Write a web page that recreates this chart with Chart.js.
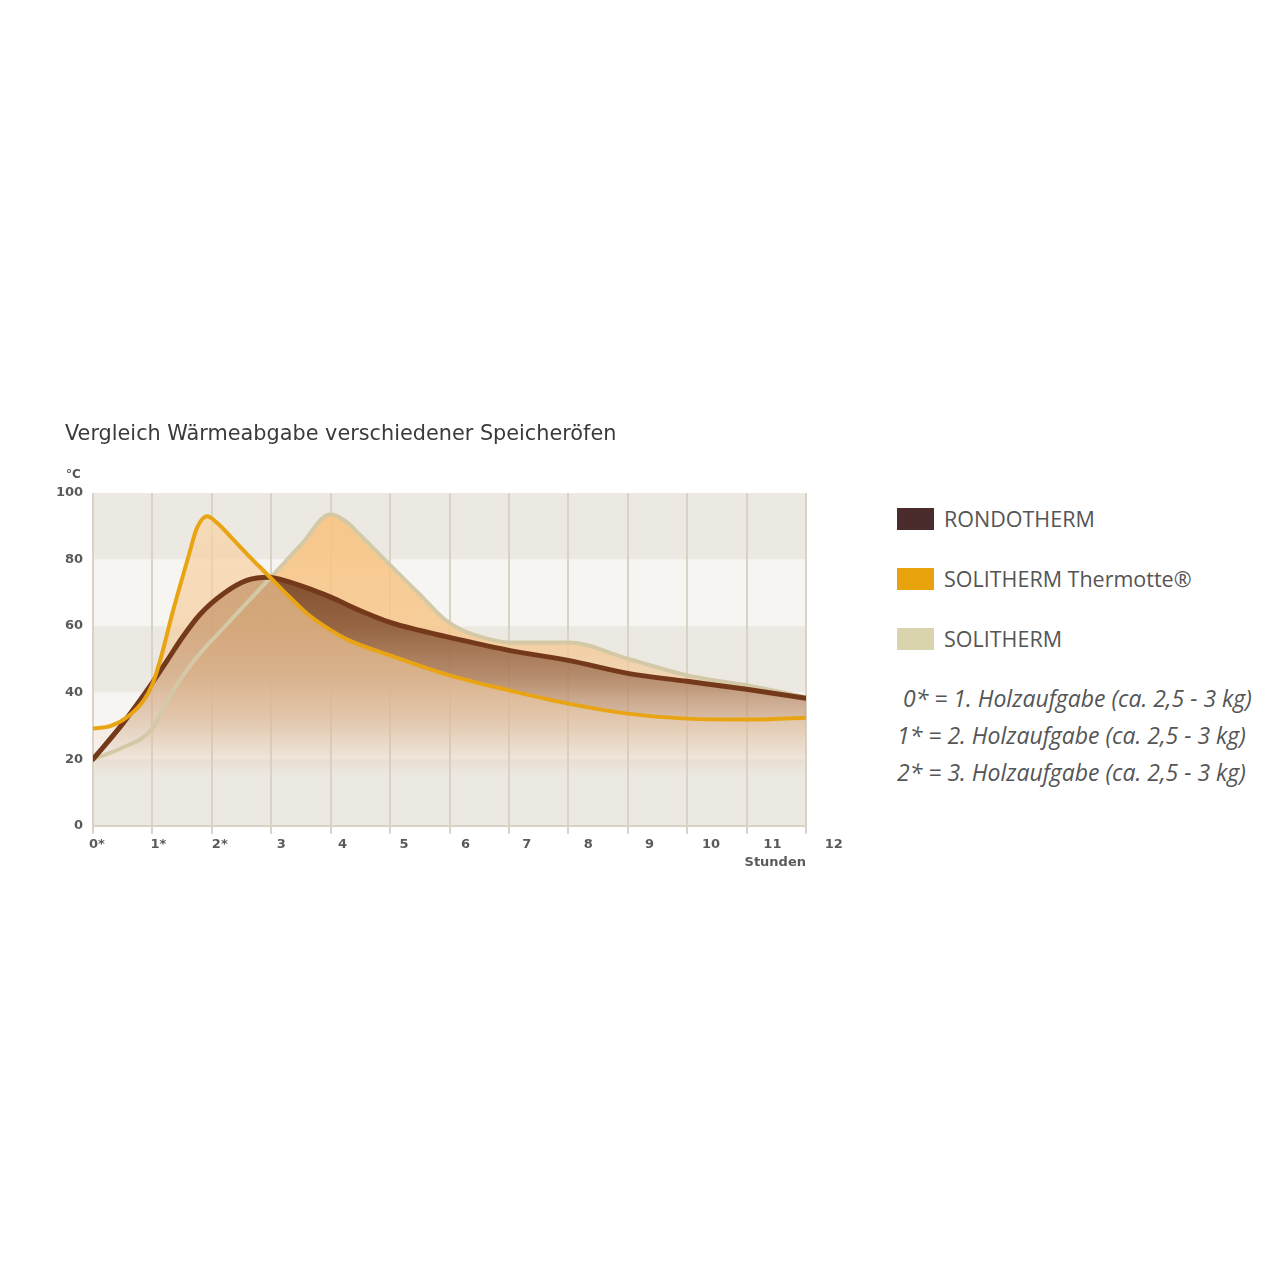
<!DOCTYPE html>
<html>
<head>
<meta charset="utf-8">
<script src="https://cdn.jsdelivr.net/npm/chart.js@4.4.1/dist/chart.umd.min.js"></script>
<style>
  body { margin: 0; background: #fff; width: 1280px; height: 1280px; position: relative; overflow: hidden; }
  #wrap { position: absolute; left: 0; top: 400px; width: 860px; height: 480px; }
  #unit { position: absolute; left: 66px; top: 467px; font: bold 12px "DejaVu Sans", sans-serif; color: #555; }
  #legend { position: absolute; left: 897px; top: 505px; font-family: "Open Sans", sans-serif; color: #555; }
  .item { height: 60px; display: flex; align-items: flex-start; }
  .box { width: 37px; height: 22px; margin-top: 3px; margin-right: 10px; }
  .label { font-size: 21.5px; line-height: 28px; }
  #notes { position: absolute; left: 897px; top: 680px; font: italic 23px "Open Sans", sans-serif; color: #555; line-height: 37px; }
</style>
</head>
<body>
<div id="wrap"><canvas id="chart" width="860" height="480"></canvas></div>
<div id="unit">°C</div>
<div id="legend"></div>
<div id="notes"></div>
<script>
// Daten
const seriesNames = ["RONDOTHERM", "SOLITHERM Thermotte®", "SOLITHERM"];
const legendColors = ["#4b2c2c", "#e8a20c", "#d9d4ae"];

const rondoHours = [0, 0.5, 1, 1.25, 1.5, 1.8, 2.2, 2.6, 2.95, 3.3, 3.7, 4, 4.5, 5, 5.5, 6, 7, 8, 9, 10, 11, 12];
const rondoValues = [20, 30.7, 43, 49.7, 56.5, 63.5, 69.8, 73.8, 74.7, 73.3, 70.8, 68.7, 64.6, 61.1, 58.7, 56.6, 52.7, 49.7, 45.8, 43.4, 41, 38.3];

const thermotteHours = [0, 0.3, 0.6, 0.85, 1, 1.13, 1.35, 1.6, 1.75, 1.92, 2.1, 2.35, 2.6, 2.8, 3, 3.3, 3.6, 4, 4.3, 5, 6, 7, 8, 9, 10, 11, 12];
const thermotteValues = [29.2, 30, 33, 37.6, 42.5, 49.7, 64.8, 80.5, 89.5, 93, 90.8, 86.2, 81.5, 77.9, 74.3, 68.9, 63.8, 58.8, 55.8, 51.2, 45.2, 40.7, 36.7, 33.7, 32.2, 31.9, 32.5];

const solithermHours = [0, 0.5, 1, 1.13, 1.46, 1.8, 2.2, 2.6, 3, 3.5, 4, 4.25, 4.5, 5, 5.5, 5.9, 6.2, 6.6, 7, 7.6, 8, 9, 10, 11, 12];
const solithermValues = [20, 23.5, 29.2, 33.5, 43.7, 51.8, 59.5, 67.2, 74.8, 84.4, 93.6, 91.5, 87.3, 78.3, 69.5, 62.3, 58.9, 56.4, 55.1, 55.1, 55.1, 50.2, 45.2, 42.2, 38.6];

const xTickLabels = ["0*", "1*", "2*", "3", "4", "5", "6", "7", "8", "9", "10", "11", "12"];
const yMax = 100;
const yStep = 20;

const notes = [
  "\u00a00* = 1. Holzaufgabe (ca. 2,5 - 3 kg)",
  "1* = 2. Holzaufgabe (ca. 2,5 - 3 kg)",
  "2* = 3. Holzaufgabe (ca. 2,5 - 3 kg)",
];

const toPoints = (xs, ys) => xs.map((x, i) => ({ x, y: ys[i] }));

// vertikaler Verlauf in Datenwerten (0..100)
function vGradient(context, stops) {
  const chart = context.chart;
  if (!chart.chartArea) return null;
  const y = chart.scales.y;
  const g = chart.ctx.createLinearGradient(0, y.getPixelForValue(yMax), 0, y.getPixelForValue(0));
  stops.forEach(([v, c]) => g.addColorStop(1 - v / yMax, c));
  return g;
}

// Hintergrundstreifen
const bandsPlugin = {
  id: "bands",
  beforeDraw(chart) {
    const { ctx, chartArea } = chart;
    const y = chart.scales.y;
    ctx.save();
    let i = 0;
    for (let v = yMax; v > 0; v -= yStep, i++) {
      const top = y.getPixelForValue(v);
      const bottom = y.getPixelForValue(v - yStep);
      ctx.fillStyle = i % 2 === 0 ? "#ece9e3" : "#f6f5f2";
      ctx.fillRect(chartArea.left, top, chartArea.right - chartArea.left, bottom - top);
    }
    ctx.restore();
  },
};

const datasets = [
  {
    label: seriesNames[1],
    data: toPoints(thermotteHours, thermotteValues),
    borderColor: "#e9a414",
    borderWidth: 4,
    fill: "origin",
    backgroundColor: (c) => vGradient(c, [
      [100, "rgba(250,214,168,0.7)"],
      [60, "rgba(246,202,152,0.66)"],
      [40, "rgba(242,208,170,0.55)"],
      [15, "rgba(245,230,215,0)"],
    ]),
  },
  {
    label: seriesNames[0],
    data: toPoints(rondoHours, rondoValues),
    borderColor: "#74391a",
    borderWidth: 5,
    fill: "origin",
    backgroundColor: (c) => vGradient(c, [
      [80, "rgba(105,55,25,0.9)"],
      [60, "rgba(125,75,45,0.8)"],
      [45, "rgba(150,100,70,0.65)"],
      [30, "rgba(185,145,115,0.4)"],
      [14, "rgba(210,180,160,0)"],
    ]),
  },
  {
    label: seriesNames[2],
    data: toPoints(solithermHours, solithermValues),
    borderColor: "#d3c9a6",
    borderWidth: 4,
    fill: "origin",
    backgroundColor: (c) => vGradient(c, [
      [100, "rgba(249,196,128,0.92)"],
      [60, "rgba(247,198,138,0.85)"],
      [35, "rgba(240,205,165,0.5)"],
      [15, "rgba(240,220,200,0)"],
    ]),
  },
];

const tickFont = { family: "DejaVu Sans", size: 13, weight: "bold" };

const chart = new Chart(document.getElementById("chart"), {
  type: "line",
  data: { datasets },
  plugins: [bandsPlugin],
  options: {
    responsive: false,
    animation: false,
    layout: { padding: { left: 65, right: 54, top: 22, bottom: 6 } },
    elements: {
      point: { radius: 0 },
      line: { cubicInterpolationMode: "monotone", borderCapStyle: "round", borderJoinStyle: "round" },
    },
    plugins: {
      legend: { display: false },
      tooltip: { enabled: false },
      filler: { drawTime: "beforeDatasetsDraw" },
      title: {
        display: true,
        text: "Vergleich Wärmeabgabe verschiedener Speicheröfen",
        align: "start",
        color: "#3a3a3a",
        font: { family: "DejaVu Sans", size: 20.8, weight: "normal" },
        padding: { top: 0, bottom: 46 },
      },
    },
    scales: {
      x: {
        type: "linear",
        position: "bottom",
        weight: 0,
        min: 0,
        max: 12,
        ticks: { stepSize: 1, display: false },
        grid: { color: "#d9d2c5", lineWidth: 2, tickLength: 8, drawTicks: true },
        border: { color: "#d9d2c5", width: 2 },
      },
      xLabels: {
        type: "linear",
        position: "bottom",
        weight: 1,
        min: -0.065,
        max: 11.547,
        afterBuildTicks: (scale) => {
          scale.ticks = xTickLabels.map((_, i) => ({ value: i }));
        },
        ticks: {
          autoSkip: false,
          maxRotation: 0,
          padding: -5,
          color: "#5a5a5a",
          font: tickFont,
          callback: (v) => xTickLabels[v],
        },
        grid: { display: false },
        border: { display: false },
        title: {
          display: true,
          text: "Stunden",
          align: "end",
          color: "#5a5a5a",
          font: tickFont,
          padding: { top: 7, bottom: 4 },
        },
      },
      y: {
        min: 0,
        max: yMax,
        afterFit: (scale) => { scale.width = 28; },
        ticks: {
          stepSize: yStep,
          mirror: true,
          crossAlign: "far",
          padding: -37,
          color: "#5a5a5a",
          font: tickFont,
        },
        grid: { display: false },
        border: { display: false },
      },
    },
  },
});

// Legende + Fußnoten
const legendEl = document.getElementById("legend");
seriesNames.forEach((name, i) => {
  const item = document.createElement("div");
  item.className = "item";
  item.innerHTML = `<div class="box" style="background:${legendColors[i]}"></div><div class="label">${name}</div>`;
  legendEl.appendChild(item);
});
document.getElementById("notes").innerHTML = notes.map((n) => `<div>${n}</div>`).join("");
</script>
</body>
</html>
